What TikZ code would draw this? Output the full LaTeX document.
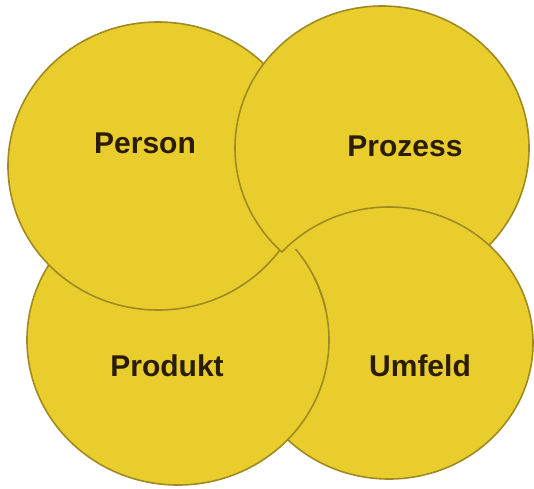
\documentclass[tikz,border=0pt]{standalone}
\usepackage{fontspec}
\setmainfont{Liberation Sans}
\usepackage{xcolor}
\definecolor{kreisgelb}{HTML}{E9CD2C}
\definecolor{kreisrand}{HTML}{A08A22}
\definecolor{schrift}{HTML}{2B1D05}
\tikzset{
	kreis/.style={fill=kreisgelb, draw=kreisrand, line width=1.6pt},
	rand/.style={draw=kreisrand, line width=1.6pt},
	wort/.style={anchor=base, text=schrift, font=\fontsize{30}{30}\selectfont\bfseries},
}

\begin{document}
\begin{tikzpicture}[x=1pt, y=-1pt]
	\useasboundingbox[fill=white] (0,0) rectangle (534,488);
	\coordinate (Pe) at (158,166);
	\coordinate (Pz) at (382,148);
	\coordinate (Pd) at (178,340);
	\coordinate (Um) at (389,343);
	\draw[kreis] (Um) ellipse [x radius=144pt, y radius=136pt];
	\draw[kreis] (Pd) ellipse [x radius=151pt, y radius=145pt];
	\draw[kreis] (Pe) ellipse [x radius=150pt, y radius=144pt];
	\draw[kreis] (Pz) ellipse [x radius=147pt, y radius=142pt];
	% Umfeld liegt ueber Prozess
	\begin{scope}
		\clip (282,200) rectangle (534,300);
		\clip (Pz) ellipse [x radius=149.5pt, y radius=144.5pt];
		\draw[kreis] (Um) ellipse [x radius=144pt, y radius=136pt];
	\end{scope}
	% Rand von Produkt wieder sichtbar
	\begin{scope}
		\clip (282,249) rectangle (340,310);
		\draw[rand] (Pd) ellipse [x radius=151pt, y radius=145pt];
	\end{scope}
	\node[wort] (person) at (145,153) {Person};
	\node[wort] (prozess) at (405,156) {Prozess};
	\node[wort] (produkt) at (167,376) {Produkt};
	\node[wort] (umfeld) at (420,376) {Umfeld};
\end{tikzpicture}
\end{document}
